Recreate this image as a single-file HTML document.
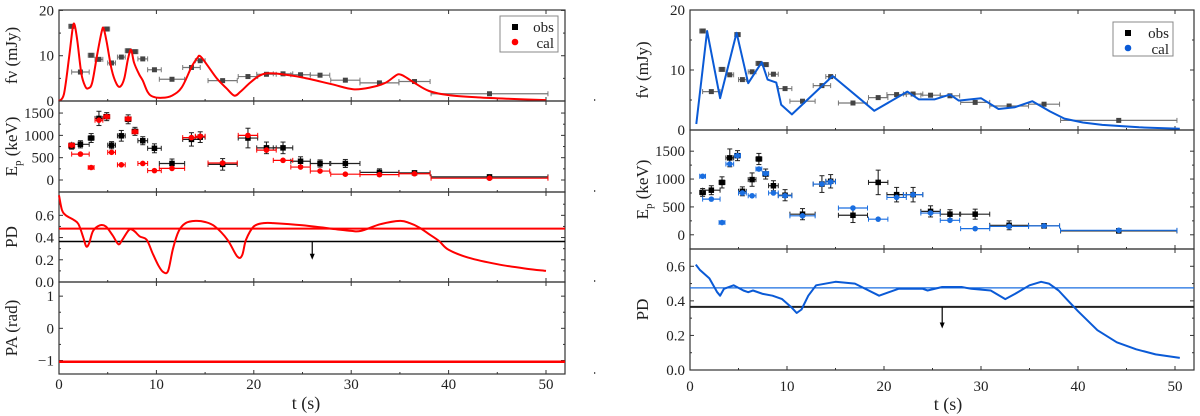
<!DOCTYPE html>
<html><head><meta charset="utf-8"><style>
html,body{margin:0;padding:0;background:#fff;}
svg{display:block;font-family:"Liberation Serif",serif;}
</style></head><body>
<svg id="c" width="1200" height="416" viewBox="0 0 1200 416" xmlns="http://www.w3.org/2000/svg"></svg>
<script>
// ---------- data ----------
const obsT   = [1.3,2.2,3.3,4.1,4.9,5.4,6.4,7.1,7.8,8.6,9.8,11.6,13.6,14.5,16.8,19.4,21.3,23.0,24.8,26.8,29.4,32.9,36.5,44.2];
const obsTerr= [0.3,0.9,0.3,0.4,0.3,0.4,0.4,0.3,0.3,0.5,0.7,1.3,0.9,0.5,1.5,1.0,1.0,1.0,1.0,1.0,1.5,2.0,1.6,6.0];
const fluxObs= [16.5,6.4,10.1,9.2,15.9,8.4,9.7,11.1,10.9,9.3,6.9,4.8,7.4,8.9,4.5,5.4,5.9,6.0,5.8,5.7,4.6,4.0,4.3,1.6];
const epObs  = [760,800,940,1380,1420,780,990,1360,1090,880,710,370,910,960,350,940,720,720,420,370,370,170,160,70];
const epObsErr=[70,80,100,160,90,80,120,100,90,90,100,100,150,120,130,220,130,130,100,80,90,80,40,30];
const epCalRed =[780,580,280,1340,1420,620,340,1370,1080,370,210,260,950,980,380,1000,670,440,290,200,130,120,140,40];
const epCalBlue=[1050,640,220,1270,1420,750,700,1180,1100,750,700,340,910,950,480,280,670,720,390,260,110,150,160,80];
const redFluxT=[0,0.5,1.0,1.4,1.6,1.9,2.3,2.7,3.0,3.4,3.9,4.4,4.6,4.9,5.4,5.9,6.3,6.7,7.1,7.4,7.7,8.2,8.6,9.1,9.6,10.6,11.6,12.6,13.6,14.2,14.5,15.2,16.2,17.2,18.0,18.6,19.6,20.5,21.3,22.5,25,28,30.2,32,33.5,34.5,34.9,35.5,36.5,38,40,43,46,50];
const redFluxY=[0,1.5,9,16,16.8,13,6,3.2,2.8,4,10,15.5,15.9,13,7,3.8,3.2,5,9.5,11.3,8.5,6,4.5,2,1,0.7,1.2,3,7.5,9.5,9.9,8,5,2.8,1.2,2,4,5.5,6.1,6.0,5.2,3.7,2.6,3,4,5.5,5.9,5.4,4,2.2,1.3,0.8,0.5,0.2];
const redPdT=[0,0.3,0.7,1.5,2,2.5,2.8,3.1,3.5,4.2,4.8,5.5,6.1,6.5,7.2,7.7,8.3,9,9.6,10.2,10.7,11.2,11.7,12.3,13,14,15,16,17.3,18.3,18.8,19.2,20,21,22,25,28,30,31,33,35,36,37,38,39,40,42,45,48,50];
const redPdY=[0.78,0.65,0.6,0.56,0.52,0.4,0.32,0.35,0.46,0.51,0.5,0.42,0.34,0.38,0.47,0.46,0.41,0.38,0.26,0.15,0.09,0.1,0.3,0.46,0.53,0.55,0.54,0.5,0.38,0.23,0.24,0.38,0.5,0.53,0.53,0.51,0.48,0.46,0.46,0.52,0.55,0.53,0.49,0.43,0.37,0.29,0.22,0.16,0.12,0.1];
const blueFluxT=[0.65,1.76,3.1,4.8,6.0,7.4,8.0,8.9,9.4,10.5,14.7,19.0,22.4,23.6,25.2,26.8,27.7,30.0,31.8,33.5,35.3,37.1,38.6,40.5,42.5,46.3,50.5];
const blueFluxY=[1.0,16.5,5.3,16.2,7.8,11.3,8.4,7.9,4.2,2.6,9.0,3.2,6.4,5.1,5.1,5.9,4.9,5.3,3.5,3.8,4.8,3.1,1.9,1.25,0.85,0.45,0.2];
const bluePdT=[0.6,1,2,2.8,3.1,3.5,4.5,5.5,6,6.5,7.5,8.5,9.5,10.5,11,11.5,12.2,13,15,17,19.5,20.5,21.5,24,24.5,26,28,29,31,32.5,33.5,35,36.2,37,38,39,40,42,44,46,48,50.5];
const bluePdY=[0.61,0.58,0.53,0.45,0.43,0.47,0.49,0.46,0.45,0.46,0.44,0.43,0.41,0.36,0.33,0.35,0.43,0.49,0.51,0.5,0.43,0.45,0.47,0.47,0.46,0.48,0.48,0.47,0.46,0.41,0.44,0.49,0.51,0.5,0.46,0.4,0.34,0.23,0.16,0.12,0.09,0.07];
const xTicks=[0,10,20,30,40,50];
const pdModelRed=0.48, pdModelBlue=0.475, pdLimit=0.365, limitT=26, paValue=-1.04;

// ---------- helpers ----------
const S=document.getElementById('c');
const NS='http://www.w3.org/2000/svg';
function el(tag,attrs,parent){const e=document.createElementNS(NS,tag);for(const k in attrs)e.setAttribute(k,attrs[k]);(parent||S).appendChild(e);return e;}
function lin(d0,d1,r0,r1){return v=>r0+(v-d0)*(r1-r0)/(d1-d0);}

function panel(p){
  const sx=lin(0,50,p.tx0,p.tx50), sy=lin(p.ymin,p.ymax,p.bottom,p.top);
  const g=el('g',{});
  
  
  const fr=el('rect',{x:p.x0,y:p.top,width:p.x1-p.x0,height:p.bottom-p.top,fill:'none',stroke:'#333','stroke-width':1.2},g);
  
  
  for(const v of p.ticks){const y=sy(v);
    el('line',{x1:p.x0,x2:p.x0+4,y1:y,y2:y,stroke:'#333'},g);
    el('line',{x1:p.x1,x2:p.x1-4,y1:y,y2:y,stroke:'#333'},g);
    const t=el('text',{x:p.x0-5,y:y+5,'text-anchor':'end','font-size':p.fs||15,fill:'#222'},g);
    t.textContent=p.fmt?p.fmt(v):String(v).replace('-','−');
    
    }
  for(const v of (p.minor||[])){const y=sy(v);
    el('line',{x1:p.x0,x2:p.x0+2,y1:y,y2:y,stroke:'#333'},g);
    el('line',{x1:p.x1,x2:p.x1-2,y1:y,y2:y,stroke:'#333'},g);}
  for(const v of xTicks){const x=sx(v);
    el('line',{x1:x,x2:x,y1:p.bottom,y2:p.bottom-4,stroke:'#333'},g);
    el('line',{x1:x,x2:x,y1:p.top,y2:p.top+4,stroke:'#333'},g);
    el('line',{x1:sx(v+5),x2:sx(v+5),y1:p.bottom,y2:p.bottom-2,stroke:'#333'},g);}
  const cy=(p.top+p.bottom)/2;
  const lb=el('text',{x:p.lx,y:cy,'text-anchor':'middle','font-size':17,fill:'#222',transform:`rotate(-90 ${p.lx} ${cy})`},g);
  lb.innerHTML=p.label;
  
  
  return {sx,sy,g,clip:p};
}
function path(ts,ys,P,color,w,name,smooth){
  const pts=ts.map((t,i)=>[P.sx(t),P.sy(ys[i])]);
  let d='M'+pts[0][0].toFixed(1)+','+pts[0][1].toFixed(1);
  for(let i=0;i<pts.length-1;i++){
    if(smooth){
      const p0=pts[Math.max(0,i-1)],p1=pts[i],p2=pts[i+1],p3=pts[Math.min(pts.length-1,i+2)];
      const c1=[p1[0]+(p2[0]-p0[0])/6,p1[1]+(p2[1]-p0[1])/6];
      const c2=[p2[0]-(p3[0]-p1[0])/6,p2[1]-(p3[1]-p1[1])/6];
      d+=`C${c1[0].toFixed(1)},${c1[1].toFixed(1)} ${c2[0].toFixed(1)},${c2[1].toFixed(1)} ${p2[0].toFixed(1)},${p2[1].toFixed(1)}`;
    } else d+='L'+pts[i+1][0].toFixed(1)+','+pts[i+1][1].toFixed(1);
  }
  const e=el('path',{d,fill:'none',stroke:color,'stroke-width':w,'stroke-linejoin':'round'},P.g);
  
  
}
function hline(v,P,color,w,name){
  const e=el('line',{x1:P.clip.x0,x2:P.clip.x1,y1:P.sy(v),y2:P.sy(v),stroke:color,'stroke-width':w},P.g);
  
  
}
function errX(P,t,err,v,color,g){el('line',{x1:P.sx(t-err),x2:P.sx(t+err),y1:P.sy(v),y2:P.sy(v),stroke:color,'stroke-width':1.2},g);
  for(const s of [-1,1])el('line',{x1:P.sx(t+s*err),x2:P.sx(t+s*err),y1:P.sy(v)-2.5,y2:P.sy(v)+2.5,stroke:color,'stroke-width':1},g);}
function errY(P,t,v,err,color,g){el('line',{x1:P.sx(t),x2:P.sx(t),y1:P.sy(v-err),y2:P.sy(v+err),stroke:color,'stroke-width':1.1},g);
  for(const s of [-1,1])el('line',{x1:P.sx(t)-2.5,x2:P.sx(t)+2.5,y1:P.sy(v+s*err),y2:P.sy(v+s*err),stroke:color,'stroke-width':1},g);}
function square(P,t,v,color,g,sz){sz=sz||5;const r=el('rect',{x:P.sx(t)-sz/2,y:P.sy(v)-sz/2,width:sz,height:sz,fill:color},g);
  
  }
function dot(P,t,v,color,g){const c=el('circle',{cx:P.sx(t),cy:P.sy(v),r:2.8,fill:color},g);
  
  }
function legend(x,y,w,h,color,g){
  const lg=el('g',{},g);
  
  
  el('rect',{x,y,width:w,height:h,fill:'#fff',stroke:'#888'},lg);
  el('rect',{x:x+12,y:y+8,width:6,height:6,fill:'#000'},lg);
  el('circle',{cx:x+15,cy:y+26,r:3.3,fill:color},lg);
  const a=el('text',{x:x+w-4,y:y+16,'text-anchor':'end','font-size':15,fill:'#222'},lg);a.textContent='obs';
  
  
  const b=el('text',{x:x+w-4,y:y+32,'text-anchor':'end','font-size':15,fill:'#222'},lg);b.textContent='cal';
  
  
}
function arrow(P,t,v0,v1,g){const x=P.sx(t);
  el('line',{x1:x,x2:x,y1:P.sy(v0),y2:P.sy(v1)-4,stroke:'#000','stroke-width':1.2},g);
  const a=el('polygon',{points:`${x-2.5},${P.sy(v1)-6} ${x+2.5},${P.sy(v1)-6} ${x},${P.sy(v1)}`,fill:'#000'},g);
  
  }
function xlabels(P,y,ty,cx,txt){
  for(const v of xTicks){const t=el('text',{x:P.sx(v),y:y,'text-anchor':'middle','font-size':15,fill:'#222'});t.textContent=v;
    
    }
  const t=el('text',{x:cx,y:ty,'text-anchor':'middle','font-size':18,fill:'#222'});t.textContent=txt;
  
  
}
function drawFlux(P,curveT,curveY,color,smooth){
  const g=P.g;
  obsT.forEach((t,i)=>{errX(P,t,obsTerr[i],fluxObs[i],'#777',g);square(P,t,fluxObs[i],'#444',g,5);});
  path(curveT,curveY,P,color,2,'model-flux-curve',smooth);
}
function drawEp(P,cal,color){
  const g=P.g;
  obsT.forEach((t,i)=>{errX(P,t,obsTerr[i],epObs[i],'#222',g);errY(P,t,epObs[i],epObsErr[i],'#222',g);square(P,t,epObs[i],'#000',g,5.5);});
  obsT.forEach((t,i)=>{errX(P,t,obsTerr[i],cal[i],color,g);dot(P,t,cal[i],color,g);});
}

// ---------- LEFT figure ----------
const L={x0:59,x1:565,tx0:59,tx50:546,lx:17};
const ticksPD=[0,0.2,0.4,0.6];
const P1=panel({...L,name:'left-flux-panel',top:10,bottom:101,ymin:0,ymax:20.1,ticks:[0,10,20],minor:[5,15],label:'fν (mJy)'});
drawFlux(P1,redFluxT,redFluxY,'#f00',true);
legend(500,16,58,36,'#f00',P1.g);
const P2=panel({...L,name:'left-ep-panel',top:101,bottom:192,ymin:-269,ymax:1770,ticks:[0,500,1000,1500],minor:[250,750,1250],label:'E<tspan font-size="11" dy="4">p</tspan><tspan dy="-4"> (keV)</tspan>'});
drawEp(P2,epCalRed,'#f00');
const P3=panel({...L,name:'left-pd-panel',top:192,bottom:282,ymin:0,ymax:0.81,ticks:ticksPD,fmt:v=>v.toFixed(1),minor:[0.1,0.3,0.5,0.7],label:'PD'});
hline(pdModelRed,P3,'#f00',2,'model-pd-line');
hline(pdLimit,P3,'#000',1.5,'pd-upper-limit-line');
arrow(P3,limitT,pdLimit,0.2,P3.g);
path(redPdT,redPdY,P3,'#f00',2,'pd-curve',true);
const P4=panel({...L,name:'left-pa-panel',top:282,bottom:374,ymin:-1.42,ymax:1.44,ticks:[-1,0,1],minor:[-0.5,0.5],label:'PA (rad)'});
hline(paValue,P4,'#f00',2.5,'pa-line');
xlabels(P4,389,409,306,'t (s)');

// ---------- RIGHT figure ----------
const R={x0:690,x1:1194,tx0:690,tx50:1175,lx:648};
const Q1=panel({...R,name:'right-flux-panel',top:10,bottom:130,ymin:0,ymax:20,ticks:[0,10,20],minor:[5,15],label:'fν (mJy)'});
drawFlux(Q1,blueFluxT,blueFluxY,'#0a5ad6',false);
legend(1113,22,60,34,'#0a5ad6',Q1.g);
const Q2=panel({...R,name:'right-ep-panel',top:130,bottom:249,ymin:-255,ymax:1880,ticks:[0,500,1000,1500],minor:[250,750,1250],label:'E<tspan font-size="11" dy="4">p</tspan><tspan dy="-4"> (keV)</tspan>'});
drawEp(Q2,epCalBlue,'#1a6ee0');
const Q3=panel({...R,name:'right-pd-panel',top:249,bottom:370,ymin:0,ymax:0.7,ticks:ticksPD,fmt:v=>v.toFixed(1),minor:[0.1,0.3,0.5],label:'PD'});
hline(pdModelBlue,Q3,'#1a6ee0',1.3,'model-pd-line');
hline(pdLimit,Q3,'#222',2,'pd-upper-limit-line');
arrow(Q3,limitT,pdLimit,0.24,Q3.g);
path(bluePdT,bluePdY,Q3,'#0a5ad6',2,'pd-curve',false);
xlabels(Q3,391,410,948,'t  (s)');
</script>
</body></html>
